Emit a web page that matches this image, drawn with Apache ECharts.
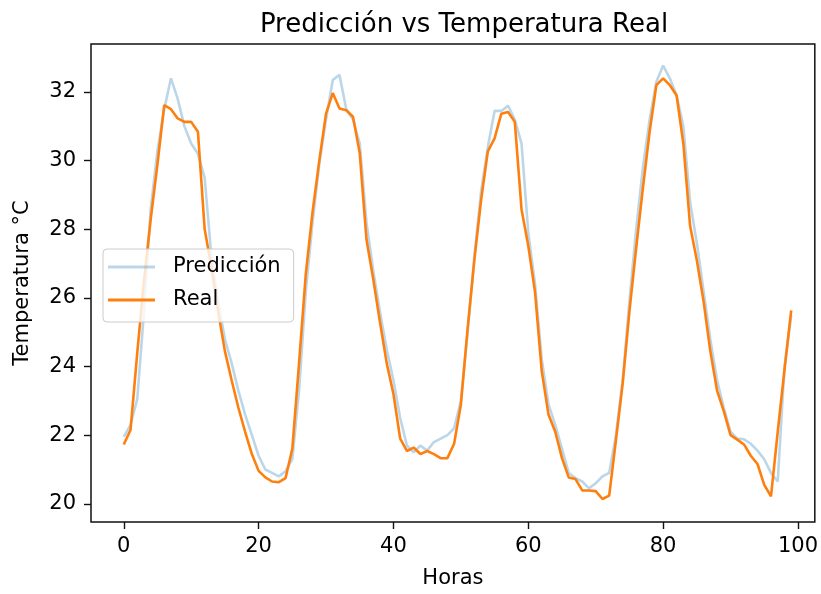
<!DOCTYPE html>
<html>
<head>
<meta charset="utf-8">
<script src="https://cdn.jsdelivr.net/npm/echarts@6/dist/echarts.min.js"></script>
<style>
  html, body { margin: 0; padding: 0; background: #fff; }
  #chart-container { width: 821px; height: 594px; }
</style>
</head>
<body>
<div id="chart-container"></div>
<script>
// valores (una lectura por hora, 0..99)
const prediccion = [
    21.95, 22.3, 23.05, 25.6, 28.6, 30.3, 31.5, 32.4, 31.8, 31.0,
    30.5, 30.2, 29.5, 27.2, 25.9, 24.8, 24.1, 23.3, 22.6, 22.0,
    21.4, 21.0, 20.9, 20.8, 20.95, 21.3, 23.3, 26.2, 28.2, 29.9,
    31.2, 32.35, 32.5, 31.5, 31.2, 30.5, 28.2, 26.8, 25.6, 24.5,
    23.6, 22.5, 21.7, 21.5, 21.7, 21.55, 21.8, 21.9, 22.0, 22.2,
    23.0, 25.0, 27.2, 29.1, 30.4, 31.45, 31.45, 31.6, 31.2, 30.5,
    27.9, 26.4, 24.2, 22.9, 22.3, 21.6, 20.9, 20.75, 20.65, 20.45,
    20.6, 20.8, 20.9, 22.0, 23.6, 25.9, 28.0, 29.8, 31.2, 32.3,
    32.77, 32.4, 31.9, 31.0, 28.8, 27.6, 26.2, 24.8, 23.6, 22.8,
    22.1, 21.9, 21.88, 21.75, 21.55, 21.3, 20.9, 20.65, 24.0, 25.5
];
const real = [
    21.73, 22.15, 24.4, 26.5, 28.3, 29.9, 31.62, 31.5, 31.23, 31.13,
    31.13, 30.84, 28.0, 26.9, 25.6, 24.45, 23.6, 22.8, 22.1, 21.45,
    20.96, 20.77, 20.65, 20.63, 20.75, 21.6, 24.1, 26.7, 28.5, 30.0,
    31.37, 31.97, 31.52, 31.47, 31.28, 30.22, 27.7, 26.55, 25.3, 24.1,
    23.2, 21.9, 21.54, 21.64, 21.45, 21.54, 21.45, 21.33, 21.33, 21.75,
    22.89, 25.1, 27.1, 28.85, 30.27, 30.65, 31.37, 31.42, 31.13, 28.58,
    27.52, 26.17, 23.86, 22.6, 22.1, 21.33, 20.77, 20.72, 20.39, 20.39,
    20.37, 20.14, 20.24, 21.85, 23.5, 25.6, 27.45, 29.2, 30.85, 32.2,
    32.4, 32.2, 31.9, 30.5, 28.1, 27.1, 25.9, 24.45, 23.3, 22.7,
    22.0, 21.87, 21.73, 21.4, 21.16, 20.55, 20.22, 22.1, 23.9, 25.64
];
const xTicks = [0, 20, 40, 60, 80, 100];
const yTicks = [20, 22, 24, 26, 28, 30, 32];

const FONT = 'DejaVu Sans';
const withHour = arr => arr.map((v, i) => [i, v]);

const option = {
    animation: false,
    backgroundColor: '#fff',
    title: {
        text: 'Predicción vs Temperatura Real',
        left: 459,
        textAlign: 'center',
        top: 7,
        textStyle: { fontFamily: FONT, fontSize: 26, fontWeight: 'normal', color: '#000' }
    },
    legend: {
        orient: 'vertical',
        left: 103,
        top: 249,
        data: [
            { name: 'Predicción', itemStyle: { color: 'rgba(31,119,180,0.3)' } },
            { name: 'Real', itemStyle: { color: '#ff7f0e' } }
        ],
        icon: 'rect',
        itemWidth: 47,
        itemHeight: 3,
        itemGap: 9,
        padding: [6, 13, 10, 5],
        backgroundColor: 'rgba(255,255,255,0.8)',
        borderColor: '#cccccc',
        borderWidth: 1,
        borderRadius: 4,
        textStyle: { fontFamily: FONT, fontSize: 21, color: '#000', lineHeight: 24, padding: [0, 0, 0, 13] }
    },
    grid: {
        left: 91,
        right: 1,
        top: 44,
        bottom: 69,
        show: true,
        borderColor: '#111',
        borderWidth: 1.5,
        backgroundColor: 'transparent'
    },
    xAxis: {
        type: 'value',
        min: -4.86,
        max: 102.5,
        name: 'Horas',
        nameLocation: 'middle',
        nameGap: 46,
        nameTextStyle: { fontFamily: FONT, fontSize: 21, color: '#000' },
        axisLine: { show: false, onZero: false },
        splitLine: { show: false },
        axisTick: { show: true, length: 7, customValues: xTicks, lineStyle: { color: '#111', width: 1.4 } },
        axisLabel: { customValues: xTicks, margin: 14, fontFamily: FONT, fontSize: 21, color: '#000' }
    },
    yAxis: {
        type: 'value',
        min: 19.47,
        max: 33.4,
        name: 'Temperatura °C',
        nameLocation: 'middle',
        nameRotate: 90,
        nameGap: 58,
        nameTextStyle: { fontFamily: FONT, fontSize: 21, color: '#000' },
        axisLine: { show: false, onZero: false },
        splitLine: { show: false },
        axisTick: { show: true, length: 7, customValues: yTicks, lineStyle: { color: '#111', width: 1.4 } },
        axisLabel: { customValues: yTicks, margin: 15, fontFamily: FONT, fontSize: 21, color: '#000' }
    },
    series: [
        {
            name: 'Predicción',
            type: 'line',
            data: withHour(prediccion),
            showSymbol: false,
            symbol: 'none',
            z: 2,
            itemStyle: { color: 'rgba(31,119,180,0.3)' },
            lineStyle: { color: '#1f77b4', opacity: 0.3, width: 2.6 }
        },
        {
            name: 'Real',
            type: 'line',
            data: withHour(real),
            showSymbol: false,
            symbol: 'none',
            z: 3,
            itemStyle: { color: '#ff7f0e' },
            lineStyle: { color: '#ff7f0e', width: 2.6 }
        }
    ]
};

const myChart = echarts.init(document.getElementById('chart-container'), null, { renderer: 'canvas' });
myChart.setOption(option);
</script>
</body>
</html>
